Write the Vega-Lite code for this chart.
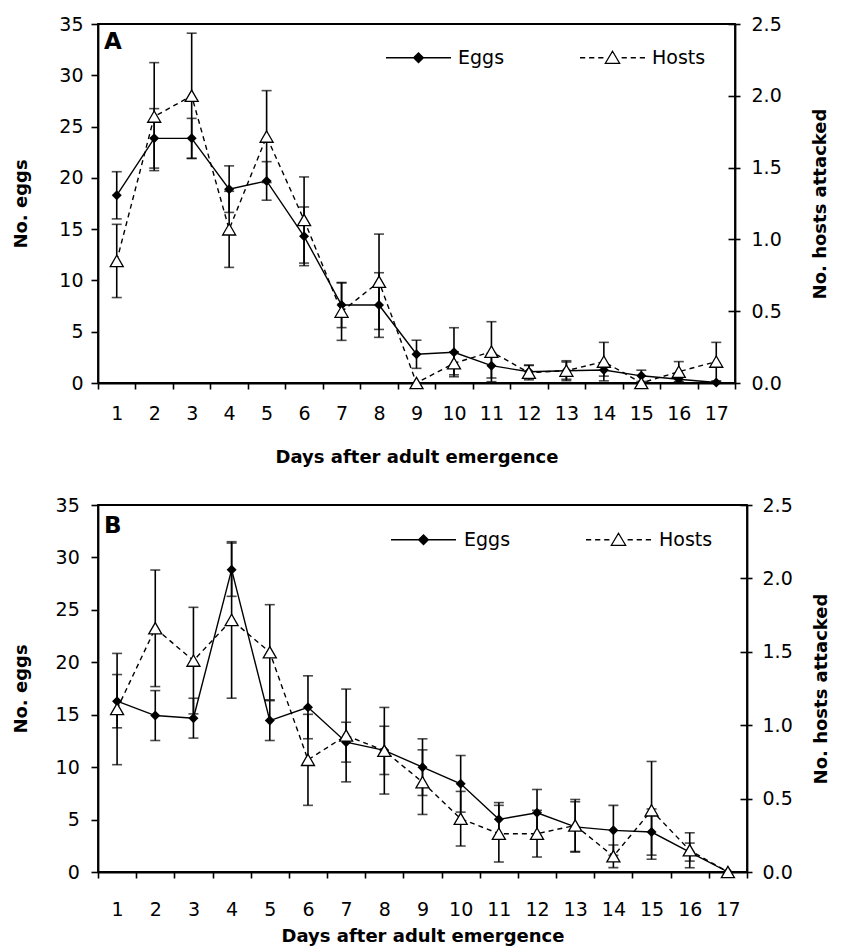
{
  "$schema": "https://vega.github.io/schema/vega-lite/v6.json",
  "background": "white",
  "padding": {"left": 11, "top": 14, "right": 0, "bottom": 0},
  "datasets": {
    "d": [
      {"p": "A", "day": 1, "eggs": 18.3, "ee": 2.3, "hosts": 0.85, "he": 0.255},
      {"p": "A", "day": 2, "eggs": 23.85, "ee": 2.9, "hosts": 1.855, "he": 0.376},
      {"p": "A", "day": 3, "eggs": 23.85, "ee": 1.95, "hosts": 2.0, "he": 0.436},
      {"p": "A", "day": 4, "eggs": 18.9, "ee": 2.27, "hosts": 1.07, "he": 0.265},
      {"p": "A", "day": 5, "eggs": 19.7, "ee": 1.88, "hosts": 1.716, "he": 0.32},
      {"p": "A", "day": 6, "eggs": 14.3, "ee": 2.86, "hosts": 1.135, "he": 0.3},
      {"p": "A", "day": 7, "eggs": 7.6, "ee": 2.2, "hosts": 0.497, "he": 0.2},
      {"p": "A", "day": 8, "eggs": 7.6, "ee": 3.15, "hosts": 0.705, "he": 0.332},
      {"p": "A", "day": 9, "eggs": 2.8, "ee": 1.37, "hosts": 0.0, "he": 0.0},
      {"p": "A", "day": 10, "eggs": 3.0, "ee": 2.39, "hosts": 0.137, "he": 0.08},
      {"p": "A", "day": 11, "eggs": 1.69, "ee": 1.2, "hosts": 0.218, "he": 0.209},
      {"p": "A", "day": 12, "eggs": 1.1, "ee": 0.65, "hosts": 0.072, "he": 0.05},
      {"p": "A", "day": 13, "eggs": 1.2, "ee": 0.97, "hosts": 0.086, "he": 0.06},
      {"p": "A", "day": 14, "eggs": 1.27, "ee": 0.6, "hosts": 0.149, "he": 0.134},
      {"p": "A", "day": 15, "eggs": 0.7, "ee": 0.55, "hosts": 0.0, "he": 0.0},
      {"p": "A", "day": 16, "eggs": 0.36, "ee": 0.3, "hosts": 0.079, "he": 0.07},
      {"p": "A", "day": 17, "eggs": 0.05, "ee": 0.05, "hosts": 0.149, "he": 0.134},
      {"p": "B", "day": 1, "eggs": 16.29, "ee": 2.54, "hosts": 1.11, "he": 0.379},
      {"p": "B", "day": 2, "eggs": 14.92, "ee": 2.38, "hosts": 1.66, "he": 0.397},
      {"p": "B", "day": 3, "eggs": 14.67, "ee": 1.9, "hosts": 1.44, "he": 0.363},
      {"p": "B", "day": 4, "eggs": 28.83, "ee": 2.54, "hosts": 1.717, "he": 0.533},
      {"p": "B", "day": 5, "eggs": 14.44, "ee": 1.9, "hosts": 1.497, "he": 0.324},
      {"p": "B", "day": 6, "eggs": 15.71, "ee": 3.0, "hosts": 0.764, "he": 0.31},
      {"p": "B", "day": 7, "eggs": 12.38, "ee": 1.9, "hosts": 0.93, "he": 0.316},
      {"p": "B", "day": 8, "eggs": 11.6, "ee": 2.3, "hosts": 0.826, "he": 0.295},
      {"p": "B", "day": 9, "eggs": 10.0, "ee": 2.7, "hosts": 0.612, "he": 0.22},
      {"p": "B", "day": 10, "eggs": 8.41, "ee": 2.7, "hosts": 0.363, "he": 0.186},
      {"p": "B", "day": 11, "eggs": 5.02, "ee": 1.6, "hosts": 0.261, "he": 0.193},
      {"p": "B", "day": 12, "eggs": 5.65, "ee": 2.22, "hosts": 0.261, "he": 0.159},
      {"p": "B", "day": 13, "eggs": 4.3, "ee": 2.4, "hosts": 0.317, "he": 0.177},
      {"p": "B", "day": 14, "eggs": 3.97, "ee": 2.38, "hosts": 0.107, "he": 0.077},
      {"p": "B", "day": 15, "eggs": 3.81, "ee": 2.2, "hosts": 0.42, "he": 0.333},
      {"p": "B", "day": 16, "eggs": 1.9, "ee": 0.86, "hosts": 0.148, "he": 0.119},
      {"p": "B", "day": 17, "eggs": 0.0, "ee": 0.0, "hosts": 0.0, "he": 0.0}
    ]
  },
  "config": {
    "view": {"stroke": "black", "strokeWidth": 1.8},
    "axis": {
      "domainColor": "black", "domainWidth": 1.8, "tickColor": "black", "tickWidth": 1.6,
      "labelColor": "black", "titleColor": "black", "labelFont": "DejaVu Sans", "labelFontSize": 19,
      "titleFont": "DejaVu Sans", "titleFontSize": 18, "titleFontWeight": "bold", "grid": false,
      "labelFlush": false, "labelOverlap": false
    },
    "legend": {
      "title": null, "orient": "none", "direction": "horizontal", "symbolSize": 4225,
      "symbolStrokeColor": "black", "symbolStrokeWidth": 1.3, "labelFont": "DejaVu Sans",
      "labelFontSize": 19, "labelColor": "black", "labelOffset": 6, "columnPadding": 72, "padding": 0
    }
  },
  "spacing": 28,
  "resolve": {"scale": {"shape": "independent", "fill": "independent", "stroke": "independent"}},
  "vconcat": [
    {
      "width": 637, "height": 359,
      "title": {"text": "A", "anchor": "start", "frame": "group", "offset": -6, "dx": 6, "dy": 33, "fontSize": 23, "font": "DejaVu Sans", "fontWeight": "bold", "color": "black"},
      "data": {"name": "d"},
      "transform": [{"filter": "datum.p === 'A'"}],
      "encoding": {
        "x": {"field": "day", "type": "ordinal", "scale": {"type": "band", "paddingInner": 0, "paddingOuter": 0},
          "axis": {"title": "Days after adult emergence", "tickBand": "extent", "labelAngle": 0, "tickSize": 6, "labelPadding": 15, "titlePadding": 25}}
      },
      "layer": [
        {
          "encoding": {"y": {"field": "eggs", "type": "quantitative", "scale": {"domain": [0, 35], "nice": false},
            "axis": {"orient": "left", "title": "No. eggs", "values": [0, 5, 10, 15, 20, 25, 30, 35], "tickSize": 7, "labelPadding": 8, "titlePadding": 28}}},
          "layer": [
            {"mark": {"type": "errorbar", "color": "black", "thickness": 1.6, "ticks": {"size": 10, "color": "black"}}, "encoding": {"yError": {"field": "ee"}}},
            {"mark": {"type": "line", "color": "black", "strokeWidth": 1.4}},
            {"mark": {"type": "point", "shape": "diamond", "filled": true, "color": "black", "size": 100, "opacity": 1}},
            {
              "transform": [{"filter": "false"}],
              "mark": {"type": "point", "filled": true, "strokeWidth": 1.3, "opacity": 1},
              "encoding": {
                "shape": {"field": "series", "type": "nominal",
                  "scale": {"domain": ["Eggs", "Hosts"], "range": ["M-1,0L1,0M-0.15,0L0,-0.15L0.15,0L0,0.15Z", "M-1,0L-0.84,0M-0.72,0L-0.56,0M-0.44,0L-0.28,0M0.28,0L0.44,0M0.56,0L0.72,0M0.84,0L1,0M0,-0.2L0.22,0.17L-0.22,0.17Z"]},
                  "legend": {"legendX": 287, "legendY": 0}},
                "fill": {"field": "series", "type": "nominal",
                  "scale": {"domain": ["Eggs", "Hosts"], "range": ["black", "white"]},
                  "legend": {"legendX": 287, "legendY": 0}},
                "stroke": {"field": "series", "type": "nominal",
                  "scale": {"domain": ["Eggs", "Hosts"], "range": ["black", "black"]},
                  "legend": {"legendX": 287, "legendY": 0}}
              }
            }
          ]
        },
        {
          "transform": [{"filter": "false"}],
          "mark": {"type": "point"},
          "encoding": {"y": {"field": "hosts", "type": "quantitative", "scale": {"domain": [0, 2.5], "nice": false},
            "axis": {"orient": "right", "title": null, "values": [0.5, 1, 1.5, 2, 2.5], "labels": false, "domain": false, "tickSize": -7}}}
        },
        {
          "encoding": {"y": {"field": "hosts", "type": "quantitative", "scale": {"domain": [0, 2.5], "nice": false},
            "axis": {"orient": "right", "title": "No. hosts attacked", "values": [0, 0.5, 1, 1.5, 2, 2.5], "format": ".1f", "tickSize": 5, "labelPadding": 11, "titlePadding": 48, "titleAngle": 270}}},
          "layer": [
            {"mark": {"type": "errorbar", "color": "black", "thickness": 1.6, "ticks": {"size": 10, "color": "black"}}, "encoding": {"yError": {"field": "he"}}},
            {"mark": {"type": "line", "color": "black", "strokeWidth": 1.4, "strokeDash": [5, 4]}},
            {"mark": {"type": "point", "shape": "triangle-up", "filled": true, "fill": "white", "stroke": "black", "strokeWidth": 1.3, "size": 170, "opacity": 1}}
          ]
        }
      ],
      "resolve": {"scale": {"y": "independent"}}
    },
    {
      "width": 649, "height": 367,
      "title": {"text": "B", "anchor": "start", "frame": "group", "offset": -7.5, "dx": 6, "dy": 34, "fontSize": 23, "font": "DejaVu Sans", "fontWeight": "bold", "color": "black"},
      "data": {"name": "d"},
      "transform": [{"filter": "datum.p === 'B'"}],
      "encoding": {
        "x": {"field": "day", "type": "ordinal", "scale": {"type": "band", "paddingInner": 0, "paddingOuter": 0},
          "axis": {"title": "Days after adult emergence", "tickBand": "extent", "labelAngle": 0, "tickSize": 6, "labelPadding": 22, "titlePadding": 8}}
      },
      "layer": [
        {
          "encoding": {"y": {"field": "eggs", "type": "quantitative", "scale": {"domain": [0, 35], "nice": false},
            "axis": {"orient": "left", "title": "No. eggs", "values": [0, 5, 10, 15, 20, 25, 30, 35], "tickSize": 7, "labelPadding": 11.7, "titlePadding": 24.3}}},
          "layer": [
            {"mark": {"type": "errorbar", "color": "black", "thickness": 1.6, "ticks": {"size": 10, "color": "black"}}, "encoding": {"yError": {"field": "ee"}}},
            {"mark": {"type": "line", "color": "black", "strokeWidth": 1.4}},
            {"mark": {"type": "point", "shape": "diamond", "filled": true, "color": "black", "size": 100, "opacity": 1}},
            {
              "transform": [{"filter": "false"}],
              "mark": {"type": "point", "filled": true, "strokeWidth": 1.3, "opacity": 1},
              "encoding": {
                "shape": {"field": "series", "type": "nominal",
                  "scale": {"domain": ["Eggs", "Hosts"], "range": ["M-1,0L1,0M-0.15,0L0,-0.15L0.15,0L0,0.15Z", "M-1,0L-0.84,0M-0.72,0L-0.56,0M-0.44,0L-0.28,0M0.28,0L0.44,0M0.56,0L0.72,0M0.84,0L1,0M0,-0.2L0.22,0.17L-0.22,0.17Z"]},
                  "legend": {"legendX": 292, "legendY": 1, "labelOffset": 7}},
                "fill": {"field": "series", "type": "nominal",
                  "scale": {"domain": ["Eggs", "Hosts"], "range": ["black", "white"]},
                  "legend": {"legendX": 292, "legendY": 1, "labelOffset": 7}},
                "stroke": {"field": "series", "type": "nominal",
                  "scale": {"domain": ["Eggs", "Hosts"], "range": ["black", "black"]},
                  "legend": {"legendX": 292, "legendY": 1, "labelOffset": 7}}
              }
            }
          ]
        },
        {
          "transform": [{"filter": "false"}],
          "mark": {"type": "point"},
          "encoding": {"y": {"field": "hosts", "type": "quantitative", "scale": {"domain": [0, 2.5], "nice": false},
            "axis": {"orient": "right", "title": null, "values": [0.5, 1, 1.5, 2, 2.5], "labels": false, "domain": false, "tickSize": -7}}}
        },
        {
          "encoding": {"y": {"field": "hosts", "type": "quantitative", "scale": {"domain": [0, 2.5], "nice": false},
            "axis": {"orient": "right", "title": "No. hosts attacked", "values": [0, 0.5, 1, 1.5, 2, 2.5], "format": ".1f", "tickSize": 5, "labelPadding": 10, "titlePadding": 38, "titleAngle": 270}}},
          "layer": [
            {"mark": {"type": "errorbar", "color": "black", "thickness": 1.6, "ticks": {"size": 10, "color": "black"}}, "encoding": {"yError": {"field": "he"}}},
            {"mark": {"type": "line", "color": "black", "strokeWidth": 1.4, "strokeDash": [5, 4]}},
            {"mark": {"type": "point", "shape": "triangle-up", "filled": true, "fill": "white", "stroke": "black", "strokeWidth": 1.3, "size": 170, "opacity": 1}}
          ]
        }
      ],
      "resolve": {"scale": {"y": "independent"}}
    }
  ]
}
